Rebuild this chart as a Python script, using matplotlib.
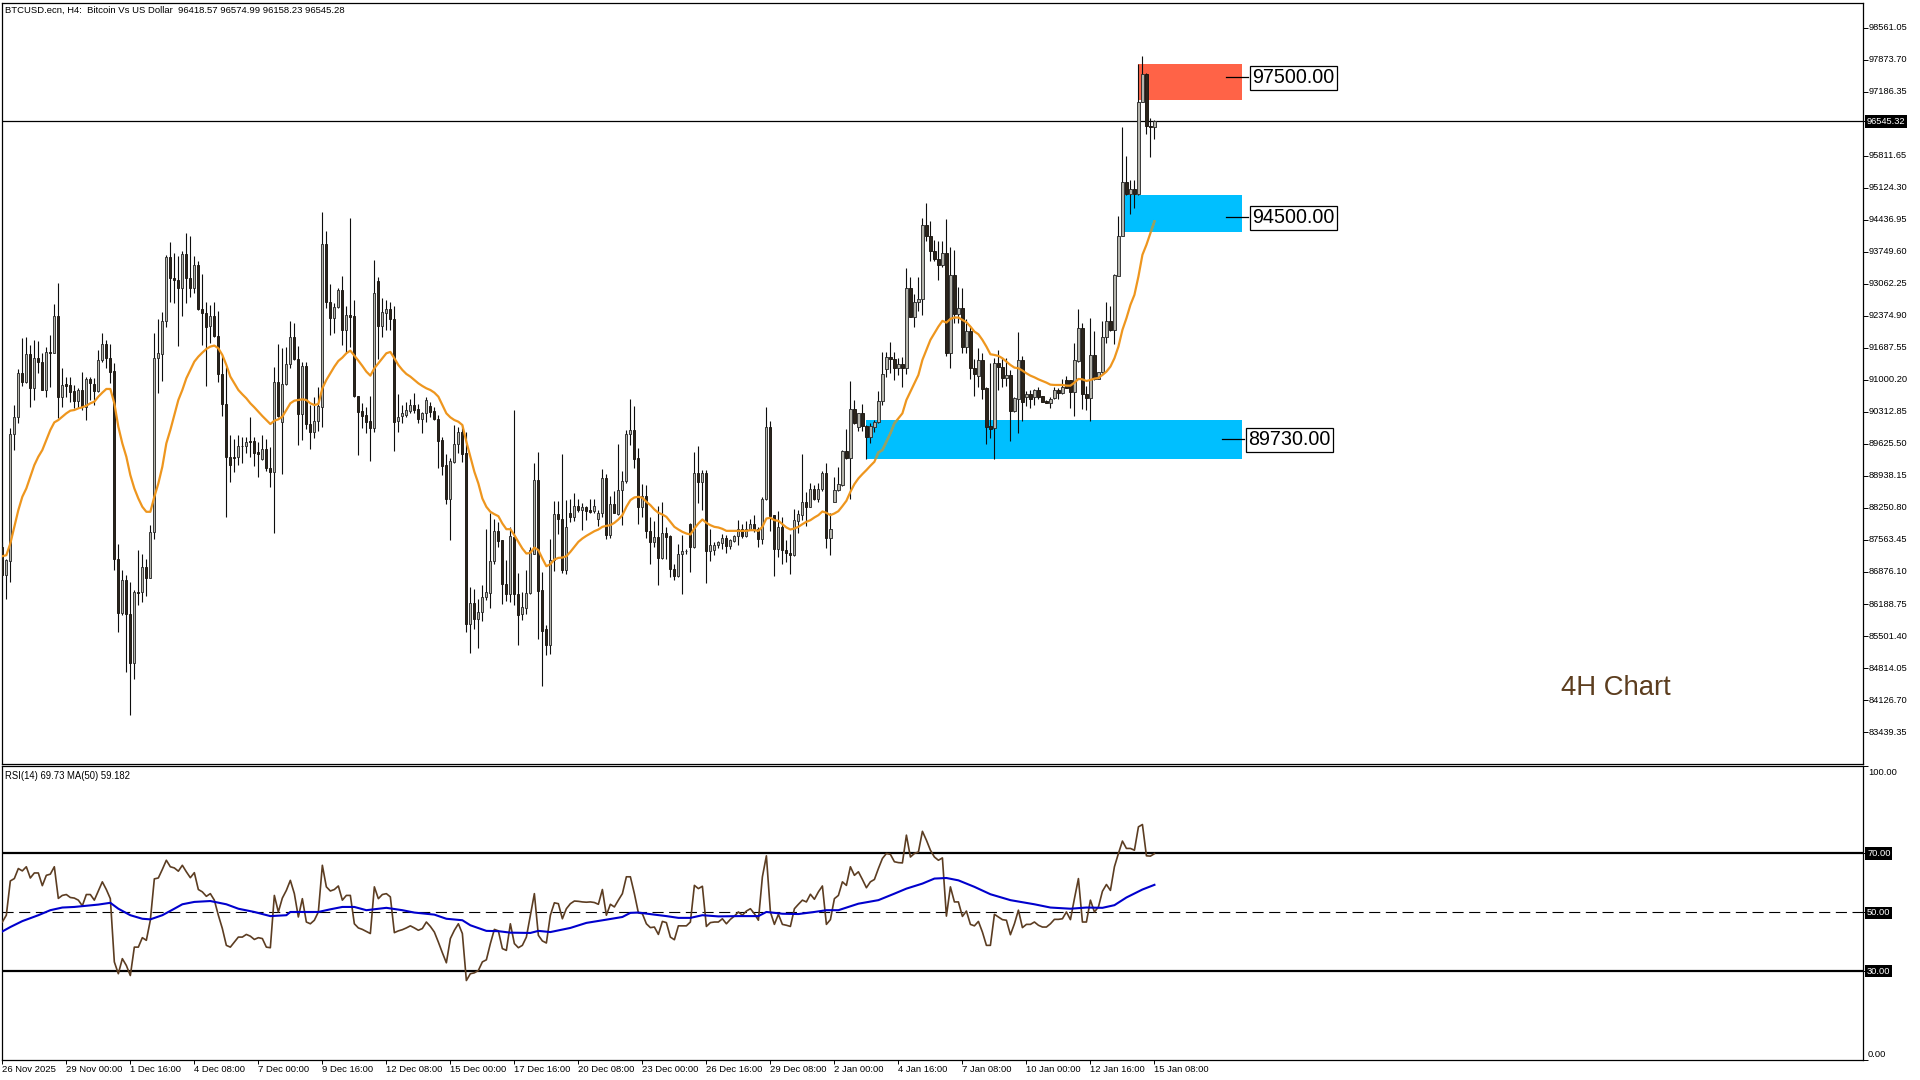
import matplotlib
matplotlib.use('Agg')
import matplotlib.pyplot as plt
from matplotlib.patches import Rectangle
from matplotlib.transforms import ScaledTranslation
import numpy as np

plt.rcParams['font.family'] = ['Liberation Sans', 'DejaVu Sans']

# 4h candles
opens = [
    87415,86807,87115,89829,90195,91140,90961,91549,90832,91463,
    91391,90782,91606,91584,92365,90639,90904,90882,90761,90553,
    90775,90424,91011,90911,90768,91420,91763,91477,91183,87165,
    85997,86699,85983,84923,86449,86449,86986,86757,87724,91463,
    91549,92258,93633,93175,93139,92967,93697,93196,92967,93461,
    92516,92430,92165,92365,91943,91119,90474,89335,89342,89335,
    89586,89579,89693,89693,89443,89292,89507,89099,89027,90947,
    90087,90904,91334,91914,91455,90259,91305,90044,89887,90123,
    90424,93912,92666,92322,92558,92931,92071,92387,92365,90660,
    90331,90238,90109,89973,93117,92165,92444,92516,92301,90123,
    90223,90245,90338,90453,90367,90166,90281,90438,90331,90152,
    89708,89170,88433,89242,89614,89872,89421,85768,86219,85868,
    86019,86341,86427,87115,87766,87559,86628,86413,87630,86413,
    85976,86112,86427,87272,88848,86484,85660,85317,87143,88110,
    88003,86928,88146,88060,88289,88203,88261,88196,88182,88003,
    88132,88884,87666,88325,88117,88626,88819,89829,89915,89314,
    88261,88511,87766,87523,87623,87179,87723,87645,86950,86792,
    87272,87329,87903,87415,88991,88798,88991,87329,87344,87466,
    87501,87616,87437,87544,87659,87802,87652,87774,87903,87788,
    87587,88433,89987,88089,87372,87845,87358,87293,87236,87974,
    88103,88368,88275,88647,88440,88647,88991,87616,88382,88626,
    88748,89471,89328,90367,89994,90281,90008,89779,89994,90087,
    90553,91226,91484,91456,91262,91334,91262,92967,92358,92680,
    92730,94321,94077,93755,93590,93454,93719,91584,93253,92415,
    92544,91713,92050,91248,91090,91420,90818,90009,89958,91355,
    91269,91047,91097,90338,90596,91420,90639,90696,90625,90782,
    90646,90546,90510,90610,90782,90725,90990,90990,90732,91405,
    92107,90689,90617,91534,91019,91176,91921,92265,92072,93239,
    94077,95244,94994,95094,94987,96964,97565,96448,96418.57,
]
highs = [
    87523,87165,89958,90460,91233,91892,91914,91749,91856,91835,
    91570,91713,91964,92630,93074,91248,91069,91069,90890,90818,
    91162,91069,91069,91033,91642,92000,91856,91771,91355,87487,
    86928,86807,86663,86499,87344,87272,87150,87881,92000,92308,
    92465,93683,93955,93719,93647,93755,94149,94091,93647,93540,
    93275,92680,92609,92680,92487,91534,91283,89815,89722,89815,
    89779,89765,90195,89765,89672,89815,89722,89564,91269,91763,
    91692,91713,92272,92215,91735,91377,91377,90460,90624,90839,
    94600,94199,93060,92644,92967,93232,92587,94471,92716,90660,
    90510,90410,90653,93576,93203,92766,92716,92680,92594,90696,
    90460,90517,90589,90711,90481,90316,90624,90531,90424,90245,
    89765,89407,89314,90030,89994,90030,89887,86556,86520,86305,
    86606,87795,88132,88024,87953,87559,87143,87845,90352,86857,
    86449,86914,87415,89206,89457,86878,85747,87580,88397,88397,
    89407,88418,88440,88562,88440,88361,88296,88440,88440,88203,
    89084,88977,88504,88612,89622,89041,89922,90589,90438,89528,
    88755,88741,88060,87974,88289,88382,87831,87680,87057,87487,
    87666,87380,87931,89442,89579,89063,89063,87788,87523,87544,
    87688,87666,87594,87680,87988,87903,87967,88024,88096,87845,
    88490,90410,90116,88096,88189,88060,87559,87702,88218,88203,
    89407,88597,88791,88741,88776,89041,89206,88132,88920,89120,
    89492,89937,90983,90567,90295,90481,90030,90066,90137,90768,
    91592,91592,91806,91606,91463,91498,93397,93203,92838,93203,
    94471,94793,94400,93991,93970,93970,94457,93848,93791,93003,
    92967,92301,92157,91448,91678,91570,90854,91370,91463,91642,
    91463,91477,91212,90625,92021,91513,90761,90782,90796,90854,
    90653,90567,90639,90854,90818,91019,91083,90997,91799,92523,
    92215,90868,92322,92050,91176,92272,92666,92587,93268,94521,
    96426,95796,95295,95295,97787,97945,97587,96620,96574.99,
]
lows = [
    86807,86305,86663,89493,90080,90875,90940,90424,90567,91140,
    90782,90639,90854,91570,90173,90424,90639,90531,90388,90388,
    90352,90137,90567,90460,90746,91391,91248,90925,86928,85589,
    85947,84729,83798,84572,86176,86234,86363,86757,87580,90725,
    90975,92143,92680,92644,91735,92379,92659,92788,92859,92501,
    91749,90875,91785,91914,90961,90223,88060,88812,89027,89170,
    89206,89421,89349,89149,88905,89278,89049,88691,87716,90209,
    88977,90890,91248,91427,89600,89708,89944,89514,89758,89908,
    89980,92537,91964,92000,92537,91749,91570,91713,90639,89385,
    89958,89865,89263,89887,91441,91928,92071,92071,89478,89887,
    90066,90209,90281,90281,90080,89865,90101,90209,90137,89099,
    88955,88332,87559,89206,89421,89242,85589,85138,85660,85245,
    85825,86269,86112,87057,87415,86183,86248,86234,86162,85317,
    85854,85983,86398,87258,85445,84429,85102,85123,86900,87687,
    86857,86828,87953,87974,88168,87774,87989,88146,88146,87860,
    88046,87580,87616,88132,88096,87881,88791,89600,89099,87903,
    88060,87609,87043,87415,86592,87150,87165,86771,86713,86771,
    86413,87272,86878,87401,88347,88203,86642,87115,87236,87401,
    87380,87287,87365,87523,87466,87616,87630,87774,87738,87415,
    87473,88418,87759,86792,87200,87057,87093,86828,87215,87716,
    87988,87859,88261,88418,88382,88619,87401,87236,88368,88604,
    88719,89306,88433,90051,89908,89908,89299,89650,89887,90066,
    90460,91069,91140,90997,91105,90854,91126,92344,92143,92487,
    92394,93970,93540,93540,93132,93418,91520,91262,92229,92229,
    91584,91570,91019,90660,90854,90589,89622,89758,89299,90782,
    90854,90875,89693,90317,89851,90123,90438,90403,90460,90582,
    90517,90496,90388,90589,90582,90696,90818,90388,90231,91391,
    90374,90352,90123,90997,91019,91140,91799,92057,91771,93218,
    94077,94972,94557,94686,94972,96964,96283,95774,96158.23,
]
closes = [
    86807,87129,89829,90195,91140,90961,91549,90832,91463,91391,
    90782,91606,91584,92365,90639,90882,90875,90746,90546,90775,
    90424,91011,90940,90768,91420,91763,91477,91162,87158,85997,
    86699,85983,84923,86449,86427,86986,86757,87724,91463,91570,
    92258,93633,93175,93139,92967,93697,93196,92967,93461,92516,
    92430,92143,92365,91943,91119,90474,89335,89170,89328,89586,
    89572,89672,89672,89421,89414,89507,89099,89027,90947,90230,
    90904,91334,91914,91455,90259,91305,90044,89887,90123,90438,
    93912,92680,92322,92558,92931,92071,92387,92358,90653,90316,
    90230,90101,89973,92859,92165,92451,92516,92301,90101,90195,
    90281,90352,90453,90352,90166,90281,90567,90316,90152,89693,
    89156,88433,89249,89614,89872,89407,85768,86219,85868,86019,
    86341,86449,87115,87766,87544,86628,86413,87645,86413,85961,
    86119,86434,87344,88848,86470,85610,85317,87143,88110,88003,
    86914,87831,88060,88289,88203,88261,88182,88160,88289,88146,
    88884,87666,88325,88132,88626,88819,89829,89915,89306,88275,
    88511,87759,87523,87623,87179,87723,87630,86943,86792,87272,
    87322,87330,87415,88991,88798,88991,87329,87466,87466,87516,
    87616,87437,87559,87659,87802,87645,87788,87903,87774,87587,
    88440,89987,88074,87372,87845,87358,87293,87243,87988,88110,
    88368,88261,88647,88440,88647,88991,87609,87788,88626,88755,
    89471,89328,90367,90066,90281,90008,89779,90008,90087,90553,
    91119,91484,91456,91262,91334,91262,92967,92358,92680,92738,
    94321,94077,93755,93590,93454,93719,91584,93253,92415,92544,
    91713,92050,91248,91119,91420,90804,89994,89951,91355,91269,
    91047,91097,90338,90603,91420,90531,90696,90589,90775,90625,
    90531,90510,90582,90782,90725,90839,90818,90746,91420,92107,
    90689,90617,91534,91019,91176,91921,92265,92072,93246,94092,
    95244,94994,95094,94994,96964,97565,96441,96426,96545.28,
]

# orange moving average on price
price_ma = [
    87215,87236,87487,87845,88203,88490,88669,88920,89170,89350,
    89493,89708,89923,90087,90137,90209,90281,90338,90352,90388,
    90410,90445,90496,90531,90639,90725,90804,90804,90496,89994,
    89636,89350,88955,88669,88454,88275,88168,88168,88490,88776,
    89135,89636,89923,90245,90567,90782,91033,91212,91391,91498,
    91584,91663,91713,91735,91677,91534,91319,91069,90925,90782,
    90689,90603,90496,90410,90316,90223,90137,90051,90123,90152,
    90209,90352,90496,90553,90567,
    90582,90567,90496,90460,90481,90818,90997,91140,91283,91405,
    91477,91570,91627,91520,91412,91298,91176,91090,91248,91355,
    91463,91570,91599,91463,91319,91212,91126,91069,90997,90925,
    90868,90818,90782,90725,90639,90460,90281,90195,90137,90101,
    90030,89672,89350,89027,88776,88454,88275,88168,88117,88074,
    87917,87795,87795,87666,87523,87380,87272,87287,87401,87344,
    87165,87000,87043,87143,87179,87186,87215,87308,87415,87523,
    87595,87652,87702,87752,87788,
    87845,87867,87881,87931,88003,88096,88275,88418,88476,88490,
    88468,88382,88311,88218,88146,88110,88060,87953,87845,87788,
    87738,87702,87680,87809,87917,88003,87931,87881,87845,87831,
    87802,87759,87759,87759,87759,87759,87759,87773,87773,87759,
    87845,88024,88038,87988,87974,87902,87831,87788,87809,87845,
    87902,87953,87988,88046,88096,88175,88146,88096,88132,88182,
    88289,88404,88597,88762,88884,88977,89063,89156,89242,89442,
    89493,89672,89851,90066,90173,90281,90567,90746,90925,91105,
    91427,91642,91857,92000,92143,92265,92229,92308,92337,92337,
    92286,92236,92143,92036,91978,91857,91713,91549,91534,91513,
    91463,91391,91319,91262,91248,91198,91140,91090,91054,91011,
    90976,90940,90897,90890,90890,90890,90875,90875,90940,91019,
    91011,90976,90997,91026,91040,91105,91176,91284,91463,91713,
    92072,92322,92609,92824,93218,93683,93898,94149,94400,
]

rsi = [
    46.6,48.9,60.5,61.3,64.7,63.9,65.3,61.5,63.2,63.2,
    58.9,62.4,62.8,65.3,54.6,55.6,55.9,54.9,54.7,54.0,
    52.1,55.9,55.9,54.0,57.1,60.2,57.6,54.5,33.1,29.1,
    34.2,31.9,28.5,38.1,38.1,41.3,40.4,47.2,61.2,61.5,
    64.4,67.5,65.3,64.9,63.8,65.8,63.6,61.6,63.3,57.6,
    56.8,55.3,56.2,54.0,48.9,44.4,38.7,38.1,39.8,41.5,
    41.5,42.4,41.8,40.7,41.3,41.0,38.1,37.9,55.6,50.0,
    54.7,57.3,60.7,56.2,48.3,54.5,46.6,46.0,47.2,50.0,
    65.8,58.5,57.1,57.6,58.8,54.0,55.6,55.6,46.0,44.6,
    44.1,43.4,42.7,58.5,54.5,55.9,56.2,55.1,43.0,43.6,
    44.0,44.6,45.3,44.6,43.8,44.4,46.6,45.1,43.2,39.8,
    36.2,32.8,41.0,43.8,46.0,42.7,26.8,29.1,29.4,30.2,
    33.1,33.8,39.3,44.1,43.6,37.6,37.0,46.0,39.3,37.9,
    38.7,41.5,48.9,56.2,42.1,40.2,39.5,48.9,53.1,52.8,
    47.7,51.1,52.8,53.7,53.6,53.4,53.3,53.4,53.2,52.6,
    57.6,48.9,52.6,51.7,54.0,56.2,61.9,61.9,56.2,49.7,
    49.4,46.0,44.7,44.9,42.4,46.8,46.4,41.5,40.6,45.3,
    45.3,45.3,46.6,59.0,57.9,58.7,45.1,46.4,46.6,46.6,
    47.7,46.0,47.5,48.6,50.0,48.9,50.3,51.1,49.4,47.2,
    61.9,69.0,50.0,45.8,49.2,45.8,45.5,45.1,51.1,52.6,
    54.0,53.4,56.0,54.3,56.8,58.8,45.8,47.4,54.5,55.6,
    60.2,59.0,65.3,62.4,63.6,61.0,58.2,60.2,61.0,64.7,
    68.1,69.8,69.5,67.0,66.7,66.6,76.0,68.6,69.8,70.3,
    77.3,74.3,70.9,68.6,67.5,68.3,48.6,58.5,53.4,53.4,
    48.5,50.3,45.8,45.3,46.8,43.2,38.7,38.7,49.2,48.3,
    47.4,47.2,42.3,46.0,50.6,44.7,45.8,45.8,46.6,45.5,
    44.9,44.9,46.0,47.5,47.5,47.7,50.0,47.4,54.5,61.3,
    46.6,46.6,54.0,50.0,51.7,57.0,59.3,57.3,65.3,69.8,
    74.0,71.5,71.5,70.9,78.8,79.6,69.0,68.9,69.73,
]

# blue MA(50) of the rsi, read at the bars below
rsi_ma_bars = [
    0,2,5,9,12,15,18,21,24,27,29,32,35,37,40,43,45,48,52,56,59,63,67,71,72,79,82,85,88,91,
    96,100,103,108,111,115,117,121,124,127,132,134,137,142,146,151,155,157,159,163,166,169,
    172,175,179,184,189,191,195,199,203,206,209,214,219,223,226,230,233,236,239,243,247,252,
    258,262,267,271,275,278,281,285,288,
]
rsi_ma = [
    43.4,44.9,46.9,48.9,50.6,51.5,51.7,52.1,52.5,53.1,51.1,48.9,47.7,47.5,48.9,51.1,52.6,53.4,53.7,52.6,
    51.1,50.0,48.6,48.9,50.0,50.0,50.9,51.7,51.7,50.6,51.4,50.6,49.8,49.1,47.7,47.2,45.5,43.6,43.5,43.0,
    42.9,43.6,43.2,44.6,46.3,47.4,48.3,49.7,49.8,49.1,48.6,48.0,48.0,48.9,48.5,48.6,48.6,50.0,49.4,49.3,
    50.0,50.6,50.6,52.8,54.0,56.2,57.9,59.6,61.3,61.5,60.7,58.5,56.0,54.0,52.6,51.5,51.1,51.5,51.4,52.3,
    54.9,57.6,59.18,
]

date_labels = [
    '26 Nov 2025','29 Nov 00:00','1 Dec 16:00','4 Dec 08:00','7 Dec 00:00','9 Dec 16:00',
    '12 Dec 08:00','15 Dec 00:00','17 Dec 16:00','20 Dec 08:00','23 Dec 00:00','26 Dec 16:00',
    '29 Dec 08:00','2 Jan 00:00','4 Jan 16:00','7 Jan 08:00','10 Jan 00:00','12 Jan 16:00','15 Jan 08:00',
]
price_ticks = [
    98561.05,97873.70,97186.35,95811.65,95124.30,94436.95,93749.60,93062.25,92374.90,91687.55,
    91000.20,90312.85,89625.50,88938.15,88250.80,87563.45,86876.10,86188.75,85501.40,84814.05,
    84126.70,83439.35,
]
last_price = 96545.32

# zones: first bar, last bar, low, high, colour
zone_starts = [283.9, 280.2, 216.0]
zone_ends = [309.8, 309.8, 309.8]
zone_lows = [97014, 94162, 89292]
zone_highs = [97787, 94972, 90137]
zone_colors = ['#FF6347', '#00BFFF', '#00BFFF']
level_values = [97500.00, 94500.00, 89730.00]
level_line_starts = [306.0, 306.0, 305.0]
level_text_bars = [311.5, 311.5, 310.5]

W, H = 1920, 1080
fig = plt.figure(figsize=(W / 100, H / 100), dpi=100, facecolor='white')

def panel(left, top, right, bottom):
    return fig.add_axes([left / W, 1 - bottom / H, (right - left) / W, (bottom - top) / H])

ax = panel(2, 2.5, 1862.5, 763.5)
ax2 = panel(2, 766, 1862.5, 1059.5)

bars = np.arange(len(closes))
o, h, l, c = map(np.array, (opens, highs, lows, closes))
up = c >= o

xlim = (-0.08, 465.0)

for s, e, lo, hi, col in zip(zone_starts, zone_ends, zone_lows, zone_highs, zone_colors):
    ax.add_patch(Rectangle((s, lo), e - s, hi - lo, facecolor=col, edgecolor='none', zorder=1))

ax.axhline(last_price, color='black', lw=0.9, zorder=2)

ax.vlines(bars, l, h, color='#0d0d0d', lw=0.8, zorder=3)
ax.bar(bars[up], (c - o)[up], bottom=o[up], width=0.55, facecolor='#b4b4ac', edgecolor='#2e2e2e', linewidth=0.65, zorder=4)
ax.bar(bars[~up], (c - o)[~up], bottom=o[~up], width=0.55, facecolor='#2a241c', edgecolor='#1a1610', linewidth=0.65, zorder=4)

ax.plot(bars, price_ma, color='#EE961E', lw=1.6, zorder=5)
# the line looks olive where it crosses the blue zones
for i in (1, 2):
    zone = Rectangle((zone_starts[i], zone_lows[i]), zone_ends[i] - zone_starts[i], zone_highs[i] - zone_lows[i],
                     transform=ax.transData)
    olive, = ax.plot(bars, price_ma, color='#8FA36B', lw=1.6, zorder=5)
    olive.set_clip_path(zone)

# level tags with a short leader line
for v, s, t in zip(level_values, level_line_starts, level_text_bars):
    ax.plot([s, t], [v, v], color='black', lw=0.9, zorder=6)
    ax.annotate('%.2f' % v, xy=(t, v), xytext=(2.6, -0.7), textcoords='offset points', fontsize=14.2,
                va='center', ha='left', color='black', zorder=7, annotation_clip=False,
                bbox=dict(boxstyle='square,pad=0.12', facecolor='white', edgecolor='black', linewidth=0.9))

ax.text(0.8382, 0.0998, '4H Chart', transform=ax.transAxes, fontsize=19.8, color='#5C3D1E', va='center', ha='left')
ax.text(0.0018, 0.9961, 'BTCUSD.ecn, H4:  Bitcoin Vs US Dollar  96418.57 96574.99 96158.23 96545.28',
        transform=ax.transAxes, fontsize=6.8, va='top', ha='left', color='black')

ax.set_xlim(xlim)
ax.set_ylim(82766, 99098)
ax.set_xticks([])
ax.yaxis.tick_right()
ax.set_yticks(price_ticks + [last_price])
ax.set_yticklabels(['%.2f' % p for p in price_ticks] + [''])
ax.tick_params(axis='y', length=3.5, width=0.7, pad=1.0, labelsize=6.7)
# labels sit a pixel above their ticks in the platform
nudge = ScaledTranslation(0, 1 / 100, fig.dpi_scale_trans)
for label in ax.get_yticklabels():
    label.set_transform(label.get_transform() + nudge)

ax.annotate('%.2f' % last_price, xy=(1, last_price), xycoords=('axes fraction', 'data'),
            xytext=(3.3, 0), textcoords='offset points', fontsize=6.7, color='white', va='center', ha='left',
            bbox=dict(boxstyle='square,pad=0.2', facecolor='black', edgecolor='black', linewidth=0))

# rsi panel
ax2.axhline(70, color='black', lw=1.6, zorder=2)
ax2.axhline(30, color='black', lw=1.6, zorder=2)
ax2.axhline(50, color='black', lw=0.8, dashes=(10, 5), zorder=2)
ax2.plot(bars, rsi, color='#5C3D22', lw=1.2, zorder=3)
ax2.plot(rsi_ma_bars, rsi_ma, color='#0000CD', lw=1.5, zorder=4)

ax2.text(0.0018, 0.984, 'RSI(14) 69.73 MA(50) 59.182', transform=ax2.transAxes, fontsize=6.85, va='top', ha='left')

ax2.set_xlim(xlim)
ax2.set_ylim(0.07, 99.4)
ax2.yaxis.tick_right()
ax2.set_yticks([99.4, 70, 50, 30, 0.07])
ax2.set_yticklabels([])
ax2.tick_params(axis='y', length=3.5, width=0.7)
for level, shift in ((70, -0.7), (50, -0.7), (30, 0)):
    ax2.annotate('%.2f' % level, xy=(1, level), xycoords=('axes fraction', 'data'),
                 xytext=(3.3, shift), textcoords='offset points', fontsize=6.7, color='white', va='center', ha='left',
                 bbox=dict(boxstyle='square,pad=0.2', facecolor='black', edgecolor='black', linewidth=0))
ax2.text(1.0029, 0.994, '100.00', transform=ax2.transAxes, fontsize=6.7, va='top', ha='left')
ax2.text(1.0029, 0.003, '0.00', transform=ax2.transAxes, fontsize=6.7, va='bottom', ha='left')

date_bars = np.arange(len(date_labels)) * 16
ax2.set_xticks(date_bars)
ax2.set_xticklabels(date_labels, ha='left', fontsize=6.8)
ax2.tick_params(axis='x', length=3.2, width=0.7, pad=0.6)

for a in (ax, ax2):
    for s in a.spines.values():
        s.set_linewidth(0.9)
        s.set_color('black')

fig.savefig('out.png', dpi=100, facecolor='white')
